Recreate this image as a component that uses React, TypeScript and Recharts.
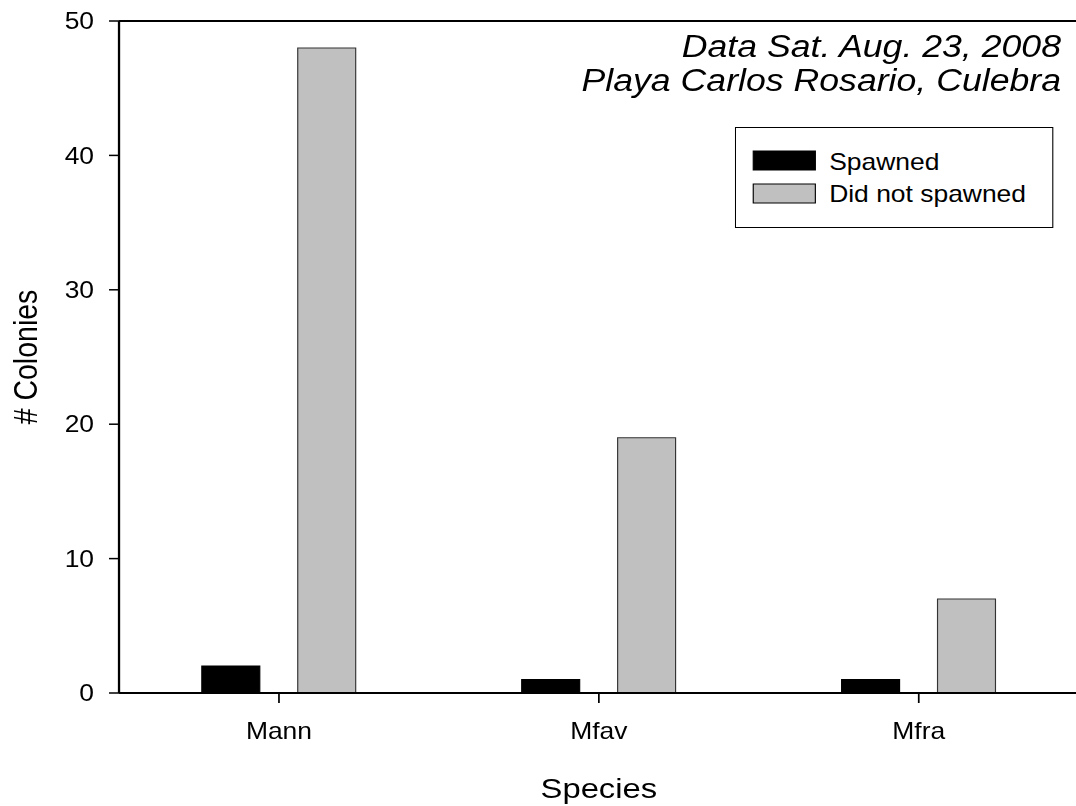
import React from "react";
import {
  BarChart,
  Bar,
  XAxis,
  YAxis,
  Legend,
  ReferenceLine,
} from "recharts";

const species = ["Mann", "Mfav", "Mfra"];
const spawned = [2, 1, 1];
const didNotSpawn = [48, 19, 7];
const seriesNames = ["Spawned", "Did not spawned"];
const yTicks = [0, 10, 20, 30, 40, 50];
const titleLines = ["Data Sat. Aug. 23, 2008", "Playa Carlos Rosario, Culebra"];

const data = species.map((s, i) => ({
  species: s,
  spawned: spawned[i],
  notSpawned: didNotSpawn[i],
}));

const FONT = '"Liberation Sans", Arial, Helvetica, sans-serif';
// the original figure is stretched sideways a bit
const STRETCH = 1.15;

const renderLegend = (props: any) => {
  // keep the series order, not the alphabetical one
  const items = [...(props.payload || [])].sort(
    (a: any, b: any) => seriesNames.indexOf(a.value) - seriesNames.indexOf(b.value)
  );
  return (
    <svg width={277} height={101} style={{ display: "block", overflow: "visible" }}>
      <rect x={0.5} y={0.5} width={276} height={100} fill="#fff" stroke="#000" strokeWidth={1} />
      {items.map((entry: any, i: number) => (
        <g key={entry.value}>
          <rect
            x={16}
            y={24 + i * 33}
            width={54}
            height={19}
            fill={entry.color}
            stroke="#000"
            strokeWidth={1}
          />
          <text x={82} y={43 + i * 32} fontSize={23} fontFamily={FONT} fill="#000">
            {entry.value}
          </text>
        </g>
      ))}
    </svg>
  );
};

export default function App() {
  return (
    <div
      style={{
        position: "absolute",
        left: 0,
        top: 0,
        width: 1076,
        height: 806,
        overflow: "hidden",
        background: "#fff",
      }}
    >
      <div
        style={{
          position: "relative",
          width: 948,
          height: 806,
          transform: `scaleX(${STRETCH})`,
          transformOrigin: "0 0",
          fontFamily: FONT,
        }}
      >
        <BarChart
          width={948}
          height={806}
          data={data}
          margin={{ top: 21, right: 10, left: 0, bottom: 3 }}
          barSize={50.4}
          barGap={33}
        >
          <XAxis
            dataKey="species"
            height={110}
            tickSize={10}
            tickMargin={20}
            tick={{ fill: "#000", fontSize: 23, fontFamily: FONT }}
            axisLine={{ stroke: "#000", strokeWidth: 2 }}
            tickLine={{ stroke: "#000", strokeWidth: 1.5 }}
            label={{
              value: "Species",
              position: "insideBottom",
              offset: 5,
              fill: "#000",
              fontSize: 28.5,
              fontFamily: FONT,
            }}
          />
          <YAxis
            width={103.5}
            domain={[0, 50]}
            ticks={yTicks}
            interval={0}
            tickSize={8.7}
            tickMargin={13}
            tick={{ fill: "#000", fontSize: 23, fontFamily: FONT }}
            axisLine={{ stroke: "#000", strokeWidth: 2 }}
            tickLine={{ stroke: "#000", strokeWidth: 1.5 }}
            label={{
              value: "# Colonies",
              angle: -90,
              position: "insideLeft",
              offset: 22,
              fill: "#000",
              fontSize: 28.5,
              fontFamily: FONT,
              style: { textAnchor: "middle" },
            }}
          />
          <ReferenceLine y={50} stroke="#000" strokeWidth={2} ifOverflow="visible" />
          <Legend
            layout="vertical"
            align="center"
            verticalAlign="middle"
            content={renderLegend}
            wrapperStyle={{ left: 639, top: 127, width: 277, height: 101 }}
          />
          <Bar
            dataKey="spawned"
            name={seriesNames[0]}
            fill="#000"
            stroke="#000"
            strokeWidth={1}
            isAnimationActive={false}
          />
          <Bar
            dataKey="notSpawned"
            name={seriesNames[1]}
            fill="#c0c0c0"
            stroke="#333"
            strokeWidth={1}
            isAnimationActive={false}
          />
        </BarChart>
        <div
          style={{
            position: "absolute",
            right: 25.4,
            top: 30.3,
            textAlign: "right",
            fontStyle: "italic",
            fontSize: 31,
            lineHeight: "34px",
            color: "#000",
            whiteSpace: "nowrap",
          }}
        >
          {titleLines.map((line) => (
            <div key={line}>{line}</div>
          ))}
        </div>
      </div>
    </div>
  );
}
